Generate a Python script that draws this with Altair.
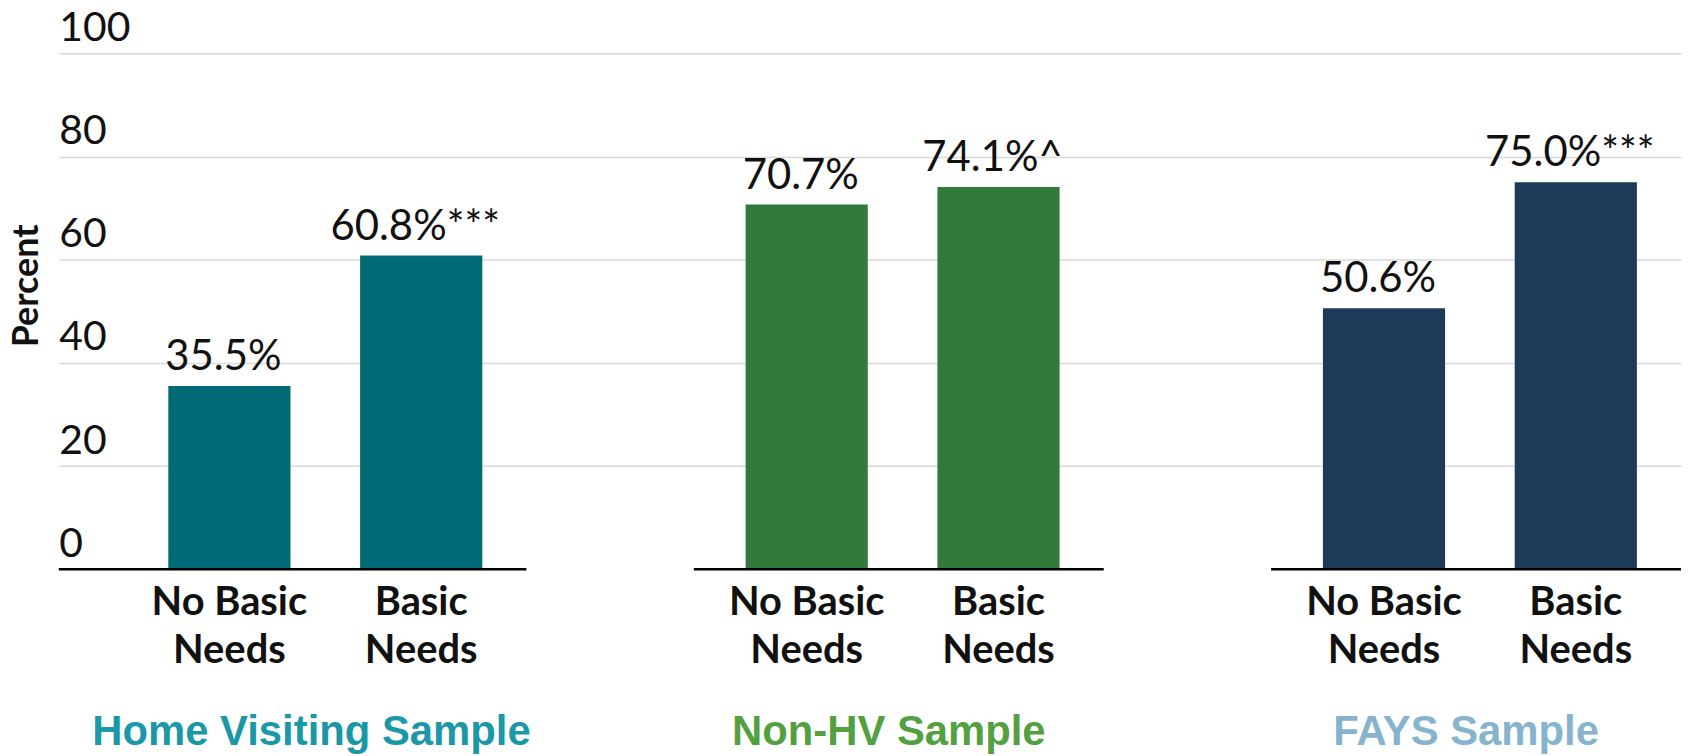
import altair as alt
import pandas as pd

groups = ["Home Visiting Sample", "Non-HV Sample", "FAYS Sample"]
categories = ["No Basic Needs", "Basic Needs"]
category_lines = ["No Basic\nNeeds", "Basic\nNeeds"]
hv_values = [35.5, 60.8]
nonhv_values = [70.7, 74.1]
fays_values = [50.6, 75.0]
hv_marks = ["", "***"]
nonhv_marks = ["", "^"]
fays_marks = ["", "***"]
y_ticks = [0, 20, 40, 60, 80, 100]
bar_colors = ["#006b76", "#33793c", "#1d3a59"]
title_colors = ["#1a98a7", "#52a03f", "#86b3cd"]

rows = []
for g, vals, marks in zip(groups, [hv_values, nonhv_values, fays_values],
                          [hv_marks, nonhv_marks, fays_marks]):
    for c, line, v, m in zip(categories, category_lines, vals, marks):
        rows.append({"group": g, "category": c, "cat_label": line,
                     "value": v, "label": f"{v:.1f}%{m}"})
df = pd.DataFrame(rows)
gdf = pd.DataFrame({"group": groups})

X_SCALE = alt.Scale(paddingInner=0.29, paddingOuter=0.05, align=1)
XO_SCALE = alt.Scale(paddingInner=0.363, paddingOuter=0.25, align=0.54)


def xg(**kw):
    return alt.X("group:N", sort=groups, axis=None, scale=X_SCALE, **kw)


def xo():
    return alt.XOffset("category:N", sort=categories, scale=XO_SCALE)


y_axis = alt.Axis(
    values=y_ticks, title="Percent", grid=True, gridColor="#d9d9d9", gridWidth=1.5,
    gridOpacity={"condition": {"test": "datum.value === 0", "value": 0}, "value": 1},
    domain=False, ticks=False, tickSize=0, labelAlign="left", labelPadding=0,
    labelBaseline="alphabetic", labelOffset=-13, labelFont="Lato", labelFontSize=41,
    labelColor="#111111", titleFont="Lato", titleFontSize=36, titleFontWeight="bold",
    titleColor="#111111", titleX=-21, titleY=233, titleAngle=270,
    titleBaseline="alphabetic", titleAlign="center",
)

bars = alt.Chart(df).mark_bar().encode(
    x=xg(),
    xOffset=xo(),
    y=alt.Y("value:Q", scale=alt.Scale(domain=[0, 100]), axis=y_axis),
    color=alt.Color("group:N", scale=alt.Scale(domain=groups, range=bar_colors), legend=None),
)

value_labels = alt.Chart(df).mark_text(
    font="Lato", fontSize=42, baseline="alphabetic", dy=-16, dx=-6, color="#111111"
).encode(
    x=xg(), xOffset=xo(), y=alt.Y("value:Q"), text="label:N"
)

cat_labels = alt.Chart(df).mark_text(
    font="Lato", fontSize=40, fontWeight="bold", baseline="top", lineBreak="\n",
    lineHeight=48, dy=14, color="#111111"
).encode(
    x=xg(), xOffset=xo(), y=alt.datum(0), text="cat_label:N"
)

base_rules = alt.Chart(gdf).transform_filter(
    alt.datum.group != groups[0]
).mark_rule(color="#000000", strokeWidth=2.5).encode(
    x=xg(bandPosition=0), x2=alt.X2("group:N", bandPosition=1), y=alt.datum(0)
)

first_rule = alt.Chart(gdf).transform_filter(
    alt.datum.group == groups[0]
).mark_rule(color="#000000", strokeWidth=2.5).encode(
    x=xg(bandPosition=1), x2=alt.value(0), y=alt.datum(0)
)

group_titles = alt.Chart(gdf).mark_text(
    font="Liberation Sans", fontWeight="bold", fontSize=42, baseline="alphabetic",
    dy=177, dx=-10
).encode(
    x=xg(), y=alt.datum(0), text="group:N",
    color=alt.Color("group:N", scale=alt.Scale(domain=groups, range=title_colors), legend=None),
)

chart = alt.layer(
    bars, value_labels, cat_labels, base_rules, first_rule, group_titles
).resolve_scale(color="independent").properties(
    width=1629, height=518,
    autosize=alt.AutoSizeParams(type="none"),
    padding={"left": 51, "top": 44, "right": 2, "bottom": 186},
).configure_view(stroke="transparent")

chart.save("out.html", embed_options={"renderer": "svg", "actions": False})
